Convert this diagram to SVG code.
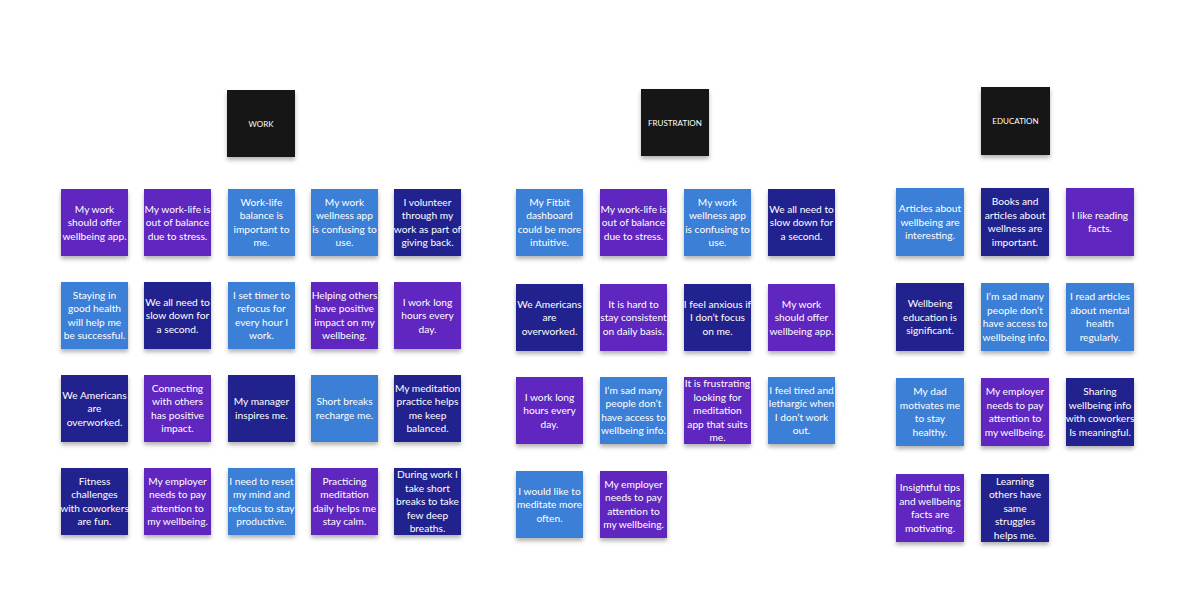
<svg xmlns="http://www.w3.org/2000/svg" width="1200" height="600" viewBox="0 0 1200 600">
<defs>
<filter id="sh" x="-20%" y="-20%" width="140%" height="150%"><feDropShadow dx="0" dy="3" stdDeviation="2" flood-color="#000" flood-opacity="0.3"/></filter>
</defs>
<style>
rect{filter:url(#sh)}
.p{fill:#6128C0}.b{fill:#3B7FD6}.n{fill:#23238E}.h{fill:#141414}
text{font-family:Lato,"Open Sans",sans-serif;font-size:10.2px;fill:#fff;text-anchor:middle}
.ht{font-size:8px}
</style>
<rect width="1200" height="600" fill="#fff" style="filter:none"/>
<g id="hdr-work"><rect class="h" x="227" y="90" width="68" height="67"/><text class="ht" x="261" y="126.5">WORK</text></g>
<g id="hdr-frustration"><rect class="h" x="641" y="89" width="68" height="67"/><text class="ht" x="675" y="125.5">FRUSTRATION</text></g>
<g id="hdr-education"><rect class="h" x="981" y="87" width="69" height="68"/><text class="ht" x="1015.5" y="124">EDUCATION</text></g>
<g id="connectors"/>

<g id="w1"><rect class="p" x="61" y="189" width="67" height="67"/><text y="212.5"><tspan x="94.5">My work</tspan><tspan x="94.5" dy="13.5">should offer</tspan><tspan x="94.5" dy="13.5">wellbeing app.</tspan></text></g>
<g id="w2"><rect class="p" x="144" y="189" width="67" height="67"/><text y="212.5"><tspan x="177.5">My work-life is</tspan><tspan x="177.5" dy="13.5">out of balance</tspan><tspan x="177.5" dy="13.5">due to stress.</tspan></text></g>
<g id="w3"><rect class="b" x="228" y="189" width="67" height="67"/><text y="205.75"><tspan x="261.5">Work-life</tspan><tspan x="261.5" dy="13.5">balance is</tspan><tspan x="261.5" dy="13.5">important to</tspan><tspan x="261.5" dy="13.5">me.</tspan></text></g>
<g id="w4"><rect class="b" x="311" y="189" width="67" height="67"/><text y="205.75"><tspan x="344.5">My work</tspan><tspan x="344.5" dy="13.5">wellness app</tspan><tspan x="344.5" dy="13.5">is confusing to</tspan><tspan x="344.5" dy="13.5">use.</tspan></text></g>
<g id="w5"><rect class="n" x="394" y="189" width="67" height="67"/><text y="205.75"><tspan x="427.5">I volunteer</tspan><tspan x="427.5" dy="13.5">through my</tspan><tspan x="427.5" dy="13.5">work as part of</tspan><tspan x="427.5" dy="13.5">giving back.</tspan></text></g>

<g id="w6"><rect class="b" x="61" y="282" width="67" height="67"/><text y="298.75"><tspan x="94.5">Staying in</tspan><tspan x="94.5" dy="13.5">good health</tspan><tspan x="94.5" dy="13.5">will help me</tspan><tspan x="94.5" dy="13.5">be successful.</tspan></text></g>
<g id="w7"><rect class="n" x="144" y="282" width="67" height="67"/><text y="305.5"><tspan x="177.5">We all need to</tspan><tspan x="177.5" dy="13.5">slow down for</tspan><tspan x="177.5" dy="13.5">a second.</tspan></text></g>
<g id="w8"><rect class="b" x="228" y="282" width="67" height="67"/><text y="298.75"><tspan x="261.5">I set timer to</tspan><tspan x="261.5" dy="13.5">refocus for</tspan><tspan x="261.5" dy="13.5">every hour I</tspan><tspan x="261.5" dy="13.5">work.</tspan></text></g>
<g id="w9"><rect class="p" x="311" y="282" width="67" height="67"/><text y="298.75"><tspan x="344.5">Helping others</tspan><tspan x="344.5" dy="13.5">have positive</tspan><tspan x="344.5" dy="13.5">impact on my</tspan><tspan x="344.5" dy="13.5">wellbeing.</tspan></text></g>
<g id="w10"><rect class="p" x="394" y="282" width="67" height="67"/><text y="305.5"><tspan x="427.5">I work long</tspan><tspan x="427.5" dy="13.5">hours every</tspan><tspan x="427.5" dy="13.5">day.</tspan></text></g>

<g id="w11"><rect class="n" x="61" y="375" width="67" height="67"/><text y="398.5"><tspan x="94.5">We Americans</tspan><tspan x="94.5" dy="13.5">are</tspan><tspan x="94.5" dy="13.5">overworked.</tspan></text></g>
<g id="w12"><rect class="p" x="144" y="375" width="67" height="67"/><text y="391.75"><tspan x="177.5">Connecting</tspan><tspan x="177.5" dy="13.5">with others</tspan><tspan x="177.5" dy="13.5">has positive</tspan><tspan x="177.5" dy="13.5">impact.</tspan></text></g>
<g id="w13"><rect class="n" x="228" y="375" width="67" height="67"/><text y="405.25"><tspan x="261.5">My manager</tspan><tspan x="261.5" dy="13.5">inspires me.</tspan></text></g>
<g id="w14"><rect class="b" x="311" y="375" width="67" height="67"/><text y="405.25"><tspan x="344.5">Short breaks</tspan><tspan x="344.5" dy="13.5">recharge me.</tspan></text></g>
<g id="w15"><rect class="n" x="394" y="375" width="67" height="67"/><text y="391.75"><tspan x="427.5">My meditation</tspan><tspan x="427.5" dy="13.5">practice helps</tspan><tspan x="427.5" dy="13.5">me keep</tspan><tspan x="427.5" dy="13.5">balanced.</tspan></text></g>

<g id="w16"><rect class="n" x="61" y="468" width="67" height="67"/><text y="484.75"><tspan x="94.5">Fitness</tspan><tspan x="94.5" dy="13.5">challenges</tspan><tspan x="94.5" dy="13.5">with coworkers</tspan><tspan x="94.5" dy="13.5">are fun.</tspan></text></g>
<g id="w17"><rect class="p" x="144" y="468" width="67" height="67"/><text y="484.75"><tspan x="177.5">My employer</tspan><tspan x="177.5" dy="13.5">needs to pay</tspan><tspan x="177.5" dy="13.5">attention to</tspan><tspan x="177.5" dy="13.5">my wellbeing.</tspan></text></g>
<g id="w18"><rect class="b" x="228" y="468" width="67" height="67"/><text y="484.75"><tspan x="261.5">I need to reset</tspan><tspan x="261.5" dy="13.5">my mind and</tspan><tspan x="261.5" dy="13.5">refocus to stay</tspan><tspan x="261.5" dy="13.5">productive.</tspan></text></g>
<g id="w19"><rect class="p" x="311" y="468" width="67" height="67"/><text y="484.75"><tspan x="344.5">Practicing</tspan><tspan x="344.5" dy="13.5">meditation</tspan><tspan x="344.5" dy="13.5">daily helps me</tspan><tspan x="344.5" dy="13.5">stay calm.</tspan></text></g>
<g id="w20"><rect class="n" x="394" y="468" width="67" height="67"/><text y="478"><tspan x="427.5">During work I</tspan><tspan x="427.5" dy="13.5">take short</tspan><tspan x="427.5" dy="13.5">breaks to take</tspan><tspan x="427.5" dy="13.5">few deep</tspan><tspan x="427.5" dy="13.5">breaths.</tspan></text></g>

<g id="f1"><rect class="b" x="516" y="189" width="67" height="67"/><text y="205.75"><tspan x="549.5">My Fitbit</tspan><tspan x="549.5" dy="13.5">dashboard</tspan><tspan x="549.5" dy="13.5">could be more</tspan><tspan x="549.5" dy="13.5">intuitive.</tspan></text></g>
<g id="f2"><rect class="p" x="600" y="189" width="67" height="67"/><text y="212.5"><tspan x="633.5">My work-life is</tspan><tspan x="633.5" dy="13.5">out of balance</tspan><tspan x="633.5" dy="13.5">due to stress.</tspan></text></g>
<g id="f3"><rect class="b" x="684" y="189" width="67" height="67"/><text y="205.75"><tspan x="717.5">My work</tspan><tspan x="717.5" dy="13.5">wellness app</tspan><tspan x="717.5" dy="13.5">is confusing to</tspan><tspan x="717.5" dy="13.5">use.</tspan></text></g>
<g id="f4"><rect class="n" x="768" y="189" width="67" height="67"/><text y="212.5"><tspan x="801.5">We all need to</tspan><tspan x="801.5" dy="13.5">slow down for</tspan><tspan x="801.5" dy="13.5">a second.</tspan></text></g>

<g id="f5"><rect class="n" x="516" y="284" width="67" height="67"/><text y="307.5"><tspan x="549.5">We Americans</tspan><tspan x="549.5" dy="13.5">are</tspan><tspan x="549.5" dy="13.5">overworked.</tspan></text></g>
<g id="f6"><rect class="p" x="600" y="284" width="67" height="67"/><text y="307.5"><tspan x="633.5">It is hard to</tspan><tspan x="633.5" dy="13.5">stay consistent</tspan><tspan x="633.5" dy="13.5">on daily basis.</tspan></text></g>
<g id="f7"><rect class="n" x="684" y="284" width="67" height="67"/><text y="307.5"><tspan x="717.5">I feel anxious if</tspan><tspan x="717.5" dy="13.5">I don’t focus</tspan><tspan x="717.5" dy="13.5">on me.</tspan></text></g>
<g id="f8"><rect class="p" x="768" y="284" width="67" height="67"/><text y="307.5"><tspan x="801.5">My work</tspan><tspan x="801.5" dy="13.5">should offer</tspan><tspan x="801.5" dy="13.5">wellbeing app.</tspan></text></g>

<g id="f9"><rect class="p" x="516" y="377" width="67" height="67"/><text y="400.5"><tspan x="549.5">I work long</tspan><tspan x="549.5" dy="13.5">hours every</tspan><tspan x="549.5" dy="13.5">day.</tspan></text></g>
<g id="f10"><rect class="b" x="600" y="377" width="67" height="67"/><text y="393.75"><tspan x="633.5">I’m sad many</tspan><tspan x="633.5" dy="13.5">people don’t</tspan><tspan x="633.5" dy="13.5">have access to</tspan><tspan x="633.5" dy="13.5">wellbeing info.</tspan></text></g>
<g id="f11"><rect class="p" x="684" y="377" width="67" height="67"/><text y="387"><tspan x="717.5">It is frustrating</tspan><tspan x="717.5" dy="13.5">looking for</tspan><tspan x="717.5" dy="13.5">meditation</tspan><tspan x="717.5" dy="13.5">app that suits</tspan><tspan x="717.5" dy="13.5">me.</tspan></text></g>
<g id="f12"><rect class="b" x="768" y="377" width="67" height="67"/><text y="393.75"><tspan x="801.5">I feel tired and</tspan><tspan x="801.5" dy="13.5">lethargic when</tspan><tspan x="801.5" dy="13.5">I don’t work</tspan><tspan x="801.5" dy="13.5">out.</tspan></text></g>

<g id="f13"><rect class="b" x="516" y="471" width="67" height="67"/><text y="494.5"><tspan x="549.5">I would like to</tspan><tspan x="549.5" dy="13.5">meditate more</tspan><tspan x="549.5" dy="13.5">often.</tspan></text></g>
<g id="f14"><rect class="p" x="600" y="471" width="67" height="67"/><text y="487.75"><tspan x="633.5">My employer</tspan><tspan x="633.5" dy="13.5">needs to pay</tspan><tspan x="633.5" dy="13.5">attention to</tspan><tspan x="633.5" dy="13.5">my wellbeing.</tspan></text></g>

<g id="e1"><rect class="b" x="896" y="188" width="68" height="68"/><text y="212"><tspan x="930">Articles about</tspan><tspan x="930" dy="13.5">wellbeing are</tspan><tspan x="930" dy="13.5">interesting.</tspan></text></g>
<g id="e2"><rect class="n" x="981" y="188" width="68" height="68"/><text y="205.25"><tspan x="1015">Books and</tspan><tspan x="1015" dy="13.5">articles about</tspan><tspan x="1015" dy="13.5">wellness are</tspan><tspan x="1015" dy="13.5">important.</tspan></text></g>
<g id="e3"><rect class="p" x="1066" y="188" width="68" height="68"/><text y="218.75"><tspan x="1100">I like reading</tspan><tspan x="1100" dy="13.5">facts.</tspan></text></g>

<g id="e4"><rect class="n" x="896" y="283" width="68" height="68"/><text y="307"><tspan x="930">Wellbeing</tspan><tspan x="930" dy="13.5">education is</tspan><tspan x="930" dy="13.5">significant.</tspan></text></g>
<g id="e5"><rect class="b" x="981" y="283" width="68" height="68"/><text y="300.25"><tspan x="1015">I’m sad many</tspan><tspan x="1015" dy="13.5">people don’t</tspan><tspan x="1015" dy="13.5">have access to</tspan><tspan x="1015" dy="13.5">wellbeing info.</tspan></text></g>
<g id="e6"><rect class="b" x="1066" y="283" width="68" height="68"/><text y="300.25"><tspan x="1100">I read articles</tspan><tspan x="1100" dy="13.5">about mental</tspan><tspan x="1100" dy="13.5">health</tspan><tspan x="1100" dy="13.5">regularly.</tspan></text></g>

<g id="e7"><rect class="b" x="896" y="378" width="68" height="68"/><text y="395.25"><tspan x="930">My dad</tspan><tspan x="930" dy="13.5">motivates me</tspan><tspan x="930" dy="13.5">to stay</tspan><tspan x="930" dy="13.5">healthy.</tspan></text></g>
<g id="e8"><rect class="p" x="981" y="378" width="68" height="68"/><text y="395.25"><tspan x="1015">My employer</tspan><tspan x="1015" dy="13.5">needs to pay</tspan><tspan x="1015" dy="13.5">attention to</tspan><tspan x="1015" dy="13.5">my wellbeing.</tspan></text></g>
<g id="e9"><rect class="n" x="1066" y="378" width="68" height="68"/><text y="395.25"><tspan x="1100">Sharing</tspan><tspan x="1100" dy="13.5">wellbeing info</tspan><tspan x="1100" dy="13.5">with coworkers</tspan><tspan x="1100" dy="13.5">Is meaningful.</tspan></text></g>

<g id="e10"><rect class="p" x="896" y="474" width="68" height="68"/><text y="491.25"><tspan x="930">Insightful tips</tspan><tspan x="930" dy="13.5">and wellbeing</tspan><tspan x="930" dy="13.5">facts are</tspan><tspan x="930" dy="13.5">motivating.</tspan></text></g>
<g id="e11"><rect class="n" x="981" y="474" width="68" height="68"/><text y="484.5"><tspan x="1015">Learning</tspan><tspan x="1015" dy="13.5">others have</tspan><tspan x="1015" dy="13.5">same</tspan><tspan x="1015" dy="13.5">struggles</tspan><tspan x="1015" dy="13.5">helps me.</tspan></text></g>
</svg>
